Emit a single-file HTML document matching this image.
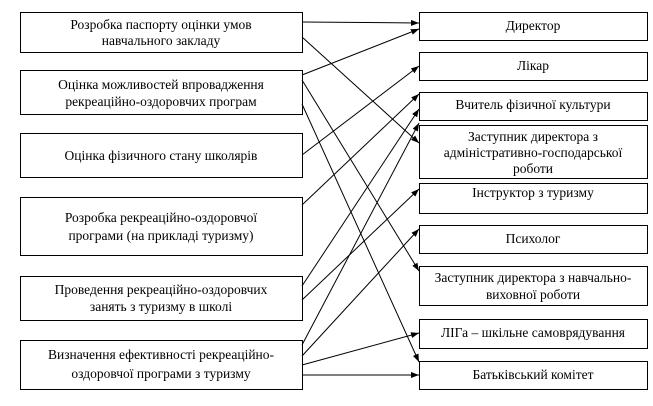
<!DOCTYPE html>
<html><head><meta charset="utf-8"><style>
body{margin:0;background:#fff;}
</style></head><body>
<svg width="653" height="401" xmlns="http://www.w3.org/2000/svg">
<defs><marker id="a" markerWidth="8" markerHeight="6" refX="8" refY="3" orient="auto" markerUnits="userSpaceOnUse"><path d="M0,0L8,3L0,6z" fill="#000"/></marker></defs>
<g fill="#fff" stroke="#000" stroke-width="1">
<rect x="20.5" y="12.5" width="282" height="40"/>
<rect x="20.5" y="70.5" width="282" height="44"/>
<rect x="20.5" y="133.5" width="282" height="44"/>
<rect x="20.5" y="197.5" width="282" height="58"/>
<rect x="20.5" y="276.5" width="282" height="44"/>
<rect x="20.5" y="340.5" width="282" height="49"/>
<rect x="419.5" y="12.5" width="228" height="28"/>
<rect x="419.5" y="52.5" width="228" height="28"/>
<rect x="419.5" y="92.5" width="228" height="28"/>
<rect x="419.5" y="125.5" width="228" height="53"/>
<rect x="419.5" y="183.5" width="228" height="30"/>
<rect x="419.5" y="225.5" width="228" height="28"/>
<rect x="419.5" y="266.5" width="228" height="39"/>
<rect x="419.5" y="319.5" width="228" height="29"/>
<rect x="419.5" y="361.5" width="228" height="28"/>
</g>
<g stroke="#000" stroke-width="1" marker-end="url(#a)" fill="none">
<line x1="302" y1="22" x2="419" y2="23"/>
<line x1="302" y1="37" x2="419" y2="143"/>
<line x1="302" y1="75" x2="419" y2="29"/>
<line x1="302" y1="80" x2="419" y2="271"/>
<line x1="302" y1="104" x2="419" y2="362"/>
<line x1="302" y1="155" x2="419" y2="66"/>
<line x1="302" y1="205" x2="419" y2="94"/>
<line x1="302" y1="286" x2="419" y2="109"/>
<line x1="302" y1="300" x2="419" y2="189"/>
<line x1="302" y1="345" x2="419" y2="123"/>
<line x1="302" y1="356" x2="419" y2="229"/>
<line x1="302" y1="365" x2="419" y2="333"/>
<line x1="302" y1="375" x2="419" y2="375"/>
</g>
<g text-anchor="middle" font-family="Liberation Serif, DejaVu Serif, serif" font-size="13.5" fill="#000">
<text x="161" y="29">Розробка паспорту оцінки умов</text>
<text x="161" y="45">навчального закладу</text>
<text x="161" y="89">Оцінка можливостей впровадження</text>
<text x="161" y="106">рекреаційно-оздоровчих програм</text>
<text x="161" y="160">Оцінка фізичного стану школярів</text>
<text x="161" y="222">Розробка рекреаційно-оздоровчої</text>
<text x="161" y="240">програми (на прикладі туризму)</text>
<text x="161" y="294">Проведення рекреаційно-оздоровчих</text>
<text x="161" y="311">занять з туризму в школі</text>
<text x="161" y="359">Визначення ефективності рекреаційно-</text>
<text x="161" y="378">оздоровчої програми з туризму</text>
<text x="533" y="30">Директор</text>
<text x="533" y="70">Лікар</text>
<text x="533" y="109">Вчитель фізичної культури</text>
<text x="533" y="141">Заступник директора з</text>
<text x="533" y="157">адміністративно-господарської</text>
<text x="533" y="173">роботи</text>
<text x="533" y="197">Інструктор з туризму</text>
<text x="533" y="243">Психолог</text>
<text x="533" y="282">Заступник директора з навчально-</text>
<text x="533" y="299">виховної роботи</text>
<text x="533" y="337">ЛІГа – шкільне самоврядування</text>
<text x="533" y="379">Батьківський комітет</text>
</g>
</svg>
</body></html>
